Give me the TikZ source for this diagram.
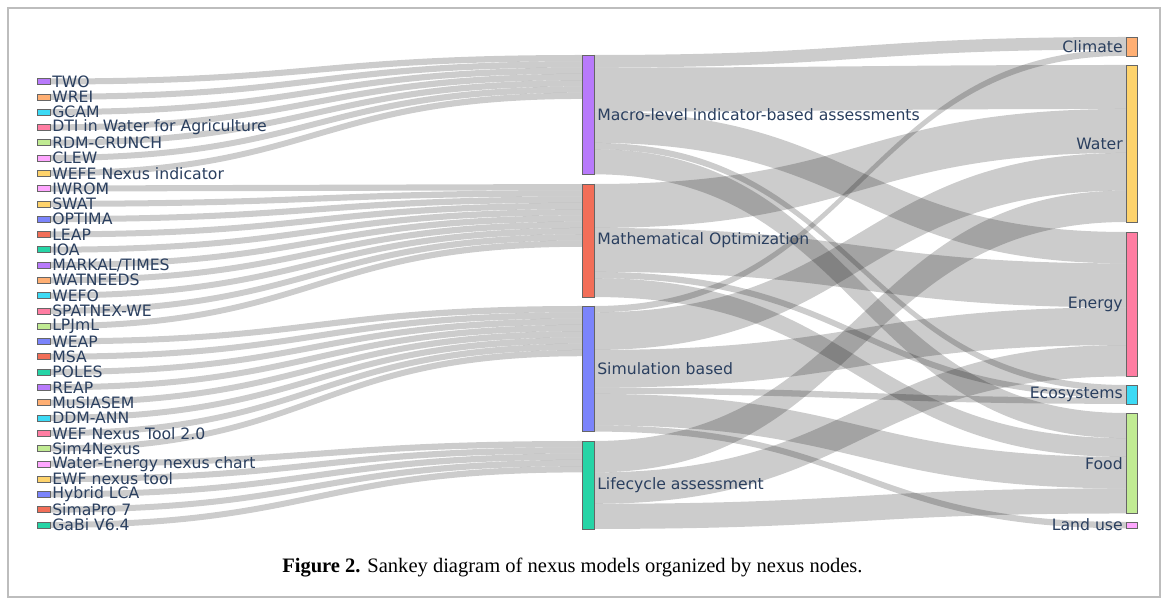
\documentclass[tikz,border=0pt]{standalone}
\usepackage{fontspec}
\newfontfamily\lblfont{DejaVu Sans}
\newfontfamily\capfont{Liberation Serif}
\definecolor{cPur}{HTML}{B87AFB}
\definecolor{cRed}{HTML}{F26E58}
\definecolor{cBlu}{HTML}{7B84FB}
\definecolor{cGrn}{HTML}{26D4A6}
\definecolor{cOra}{HTML}{FFAF73}
\definecolor{cCya}{HTML}{3CDAF5}
\definecolor{cPnk}{HTML}{FF7DA2}
\definecolor{cLgr}{HTML}{C1EB93}
\definecolor{cMag}{HTML}{FFA7FF}
\definecolor{cYel}{HTML}{FED36C}
\definecolor{txt}{HTML}{2A3F5F}
\definecolor{framegray}{HTML}{BDBDBD}
\tikzset{
  link/.style={fill=black, fill opacity=0.2},
  bar/.style={draw=black!60, line width=0.35pt, inner sep=0pt, outer sep=0pt},
  lbar/.style={bar, minimum width=9.75pt, minimum height=4.5pt},
  mbar/.style={bar, minimum width=9pt},
  rbar/.style={bar, minimum width=8.25pt},
  lbl/.style={font=\lblfont\fontsize{11.75}{13}\selectfont, text=txt, inner sep=0pt},
  capstyle/.style={font=\capfont\fontsize{15.4}{18}\selectfont, text=black, inner sep=0pt}
}
% left flow: #1 = row index, #2 = top y at middle node
\newcommand\lflow[2]{%
  \pgfmathsetmacro\lfc{81.5+15.29*#1}%
  \fill[link] (50,\lfc-3) .. controls (316,\lfc-3) and (316,#2) .. (582,#2)
    -- (582,#2+6.28) .. controls (316,#2+6.28) and (316,\lfc+3) .. (50,\lfc+3) -- cycle;}
% right flow: #1 = source top, #2 = target top, #3 = width
\newcommand\rflow[3]{%
  \fill[link] (594,#1) .. controls (860,#1) and (860,#2) .. (1126,#2)
    -- (1126,#2+#3) .. controls (860,#2+#3) and (860,#1+#3) .. (594,#1+#3) -- cycle;}
\begin{document}
\begin{tikzpicture}[x=0.75pt,y=-0.75pt]
\useasboundingbox (0,0) rectangle (1168,605);
\fill[white] (0,0) rectangle (1168,605);
\draw[framegray, line width=1.1pt] (8,8) rectangle (1160,597);

% ---- flows from models to categories
\foreach \rr in {0,...,6}{\pgfmathsetmacro\tp{55+6.28*\rr}\lflow{\rr}{\tp}}
\foreach \rr in {7,...,16}{\pgfmathsetmacro\tp{184+6.28*(\rr-7)}\lflow{\rr}{\tp}}
\foreach \rr in {17,...,24}{\pgfmathsetmacro\tp{306+6.28*(\rr-17)}\lflow{\rr}{\tp}}
\foreach \rr in {25,...,29}{\pgfmathsetmacro\tp{441+6.28*(\rr-25)}\lflow{\rr}{\tp}}

% ---- flows from categories to nexus nodes
% Macro-level
\rflow{55}{37}{12.56}
\rflow{67.56}{65}{43.96}
\rflow{111.52}{232}{31.4}
\rflow{142.92}{385}{6.28}
\rflow{149.2}{413}{25.12}
% Mathematical optimization
\rflow{184}{108.96}{43.96}
\rflow{227.96}{263.4}{43.96}
\rflow{271.92}{391.28}{6.28}
\rflow{278.2}{438.12}{18.84}
% Simulation based
\rflow{306}{49.56}{6.28}
\rflow{312.28}{152.92}{37.68}
\rflow{349.96}{307.36}{37.68}
\rflow{387.64}{397.56}{6.28}
\rflow{393.92}{456.96}{31.4}
\rflow{425.32}{522}{6.28}
% Lifecycle assessment
\rflow{441}{190.6}{31.4}
\rflow{472.4}{345.04}{31.4}
\rflow{503.8}{488.36}{25.12}

% ---- left nodes and labels
\foreach \nm/\cl [count=\i from 0] in {TWO/cPur, WREI/cOra, GCAM/cCya,
  DTI in Water for Agriculture/cPnk, RDM-CRUNCH/cLgr, CLEW/cMag,
  WEFE Nexus indicator/cYel, IWROM/cMag, SWAT/cYel, OPTIMA/cBlu, LEAP/cRed,
  IOA/cGrn, MARKAL\slash TIMES/cPur, WATNEEDS/cOra, WEFO/cCya, SPATNEX-WE/cPnk,
  LPJmL/cLgr, WEAP/cBlu, MSA/cRed, POLES/cGrn, REAP/cPur, MuSIASEM/cOra,
  DDM-ANN/cCya, WEF Nexus Tool 2.0/cPnk, Sim4Nexus/cLgr,
  Water-Energy nexus chart/cMag, EWF nexus tool/cYel, Hybrid LCA/cBlu,
  SimaPro 7/cRed, GaBi V6.4/cGrn}{
  \pgfmathsetmacro\yc{81.5+15.29*\i}
  \node[lbar, fill=\cl] (m\i) at (43.5,\yc) {};
  \node[lbl, anchor=west] (ml\i) at (52,\yc) {\nm};
}

% ---- middle nodes
\node[mbar, fill=cPur, minimum height=89.49pt] (macro) at (588,114.66) {};
\node[mbar, fill=cRed, minimum height=84.78pt] (mathopt) at (588,240.52) {};
\node[mbar, fill=cBlu, minimum height=94.2pt] (simb) at (588,368.8) {};
\node[mbar, fill=cGrn, minimum height=65.94pt] (lca) at (588,484.96) {};
\node[lbl, anchor=west] (macrol) at (597,114.66) {Macro-level indicator-based assessments};
\node[lbl, anchor=west] (mathoptl) at (597,240.52) {Mathematical Optimization};
\node[lbl, anchor=west] (simbl) at (597,368.8) {Simulation based};
\node[lbl, anchor=west] (lcal) at (597,484.96) {Lifecycle assessment};

% ---- right nodes
\node[rbar, fill=cOra, minimum height=14.13pt] (climate) at (1131.5,46.42) {};
\node[rbar, fill=cYel, minimum height=117.75pt] (water) at (1131.5,143.5) {};
\node[rbar, fill=cPnk, minimum height=108.33pt] (energy) at (1131.5,304.22) {};
\node[rbar, fill=cCya, minimum height=14.13pt] (eco) at (1131.5,394.42) {};
\node[rbar, fill=cLgr, minimum height=75.36pt] (food) at (1131.5,463.24) {};
\node[rbar, fill=cMag, minimum height=4.71pt] (land) at (1131.5,525.14) {};
\node[lbl, anchor=east] (climatel) at (1123,46.42) {Climate};
\node[lbl, anchor=east] (waterl) at (1123,143.5) {Water};
\node[lbl, anchor=east] (energyl) at (1123,304.22) {Energy};
\node[lbl, anchor=east] (ecol) at (1123,394.42) {Ecosystems};
\node[lbl, anchor=east] (foodl) at (1123,463.24) {Food};
\node[lbl, anchor=east] (landl) at (1123,525.14) {Land use};

% ---- caption
\node[capstyle, anchor=west] (caption) at (282,568) {\textbf{Figure 2.} Sankey diagram of nexus models organized by nexus nodes.};
\end{tikzpicture}
\end{document}
